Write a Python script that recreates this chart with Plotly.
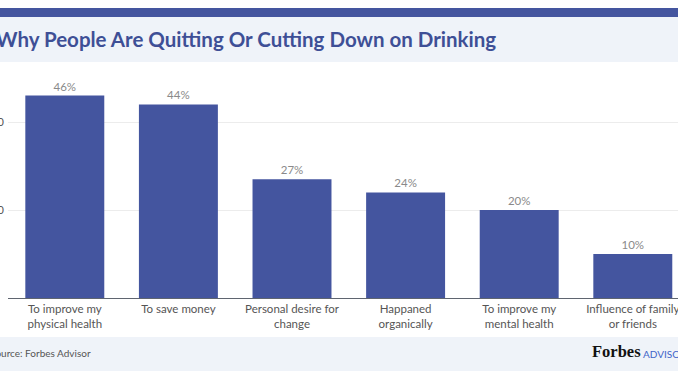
import plotly.graph_objects as go

categories = ["To improve my<br>physical health", "To save money", "Personal desire for<br>change",
              "Happaned<br>organically", "To improve my<br>mental health", "Influence of family<br>or friends"]
values = [46, 44, 27, 24, 20, 10]
labels = [f"{v}%" for v in values]
tick_vals = [20, 40]
tick_text = ["20", "40"]

BLUE = "#44559f"
GREY_BG = "#eff3f9"

W, H = 678, 381
L, T, B = 8, 62, 83
PH = H - T - B  # 236
PW = W - L

def py(p):
    return (H - B - p) / PH

def px(p):
    return (p - L) / PW

fig = go.Figure(go.Bar(
    x=list(range(len(categories))), y=values, width=0.695,
    marker=dict(color=BLUE, line=dict(width=0)),
    text=labels, textposition="outside", cliponaxis=False,
    textfont=dict(family="Lato", size=11.5, color="#8a8a8a"),
))

shapes = [
    dict(type="rect", xref="paper", yref="paper", x0=-0.1, x1=1.1, y0=py(62), y1=py(17),
         fillcolor=GREY_BG, line=dict(width=0), layer="below"),
    dict(type="rect", xref="paper", yref="paper", x0=-0.1, x1=1.1, y0=py(17), y1=py(8),
         fillcolor=BLUE, line=dict(width=0), layer="below"),
    dict(type="rect", xref="paper", yref="paper", x0=-0.1, x1=1.1, y0=py(371), y1=py(337),
         fillcolor=GREY_BG, line=dict(width=0), layer="below"),
]

annotations = [
    dict(text="<b>Why People Are Quitting Or Cutting Down on Drinking</b>", xref="paper", yref="paper",
         x=px(-6), y=py(39), xanchor="left", yanchor="middle", showarrow=False,
         font=dict(family="Lato", size=20.5, color="#3e4f96")),
    dict(text="Source: Forbes Advisor", xref="paper", yref="paper",
         x=px(-12), y=py(353), xanchor="left", yanchor="middle", showarrow=False,
         font=dict(family="Lato", size=10, color="#555555")),
    dict(text="<b>Forbes</b>", xref="paper", yref="paper",
         x=px(590), y=py(351), xanchor="left", yanchor="middle", showarrow=False,
         font=dict(family="Liberation Serif", size=16.5, color="#111111")),
    dict(text="ADVISOR", xref="paper", yref="paper",
         x=px(641), y=py(354), xanchor="left", yanchor="middle", showarrow=False,
         font=dict(family="Lato", size=10, color="#3f63c8")),
]

fig.update_layout(
    width=W, height=H,
    margin=dict(l=L, r=0, t=T, b=B, autoexpand=False),
    paper_bgcolor="white", plot_bgcolor="white",
    showlegend=False, bargap=0.3,
    shapes=shapes, annotations=annotations,
    xaxis=dict(range=[-0.5, -0.5 + PW / 113.6], tickvals=list(range(len(categories))),
               ticktext=categories, showgrid=False, showline=True, linecolor="#5f6570",
               linewidth=1, ticks="", tickfont=dict(family="Lato", size=11.5, color="#555555"),
               ticklabeloverflow="allow", zeroline=False, fixedrange=True),
    yaxis=dict(range=[0, PH / 4.4], tickvals=tick_vals, ticktext=tick_text, showgrid=True,
               gridcolor="#ececec", gridwidth=1, zeroline=False, showline=False, ticks="",
               ticklabeloverflow="allow", ticklabelstandoff=3,
               tickfont=dict(family="Lato", size=11, color="#555555"), fixedrange=True),
)

fig.write_html("out.html", config={"displayModeBar": False},
               post_script="document.body.style.margin='0';document.body.style.overflow='hidden';")
